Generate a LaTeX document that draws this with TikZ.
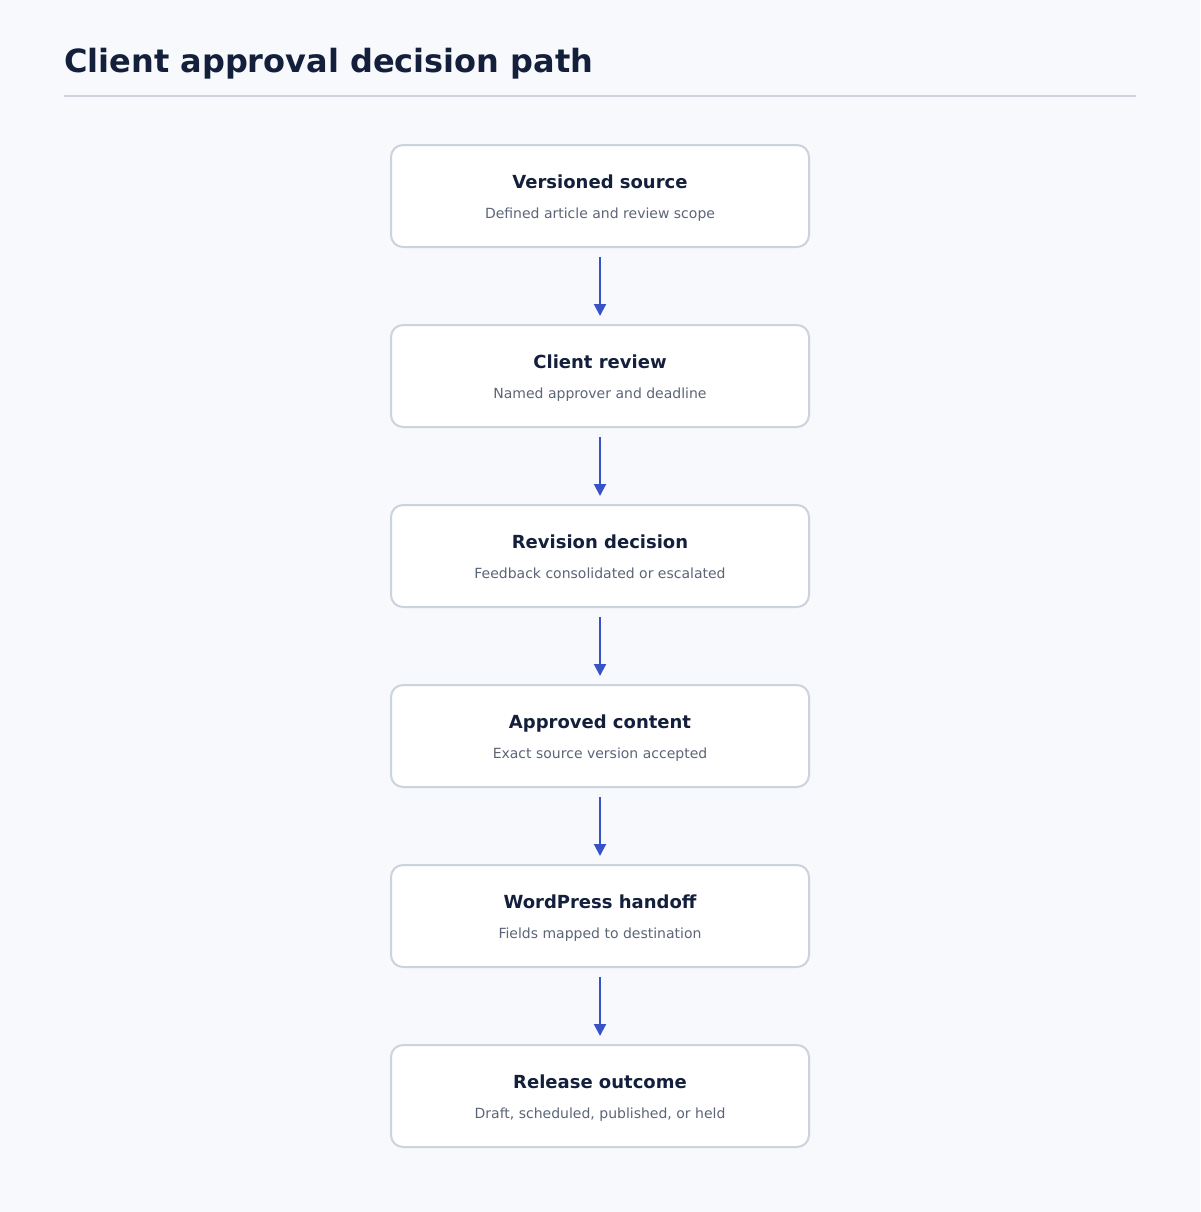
\documentclass[tikz,border=0pt]{standalone}
\usepackage{fontspec}
\setmainfont{DejaVu Sans}
\usetikzlibrary{arrows.meta}
\definecolor{bgc}{HTML}{F7F9FC}
\definecolor{titlec}{HTML}{131F3B}
\definecolor{subc}{HTML}{5C6577}
\definecolor{borderc}{HTML}{CDD3DC}
\definecolor{rulec}{HTML}{CFD4DC}
\definecolor{arrowc}{HTML}{3853C6}
\tikzset{
  box/.style={draw=borderc, fill=white, line width=2pt, rounded corners=12pt,
    minimum width=418pt, minimum height=102pt, inner sep=0pt},
  boxtitle/.style={anchor=base, font=\fontsize{18}{22}\selectfont\bfseries, text=titlec, inner sep=0pt},
  boxsub/.style={anchor=base, font=\fontsize{14}{17}\selectfont, text=subc, inner sep=0pt},
  flow/.style={draw=arrowc, line width=2pt, -{Triangle[length=12pt,width=12pt]},
    shorten <=9pt, shorten >=8pt},
}
\begin{document}
\begin{tikzpicture}[x=1pt,y=-1pt]
\useasboundingbox (0,0) rectangle (1200,1212);
\fill[bgc] (0,0) rectangle (1200,1212);
\node[anchor=base west, inner sep=0pt, font=\fontsize{32}{38}\selectfont\bfseries, text=titlec] (title) at (64,72.5) {Client approval decision path};
\coordinate (ruleL) at (64,96);
\coordinate (ruleR) at (1136,96);
\draw[rulec, line width=2pt] (ruleL) -- (ruleR);
\foreach \i/\t/\s in {1/Versioned source/Defined article and review scope,
  2/Client review/Named approver and deadline,
  3/Revision decision/Feedback consolidated or escalated,
  4/Approved content/Exact source version accepted,
  5/WordPress handoff/Fields mapped to destination,
  6/Release outcome/{Draft, scheduled, published, or held}} {
  \node[box] (b\i) at (600,{196+180*(\i-1)}) {};
  \node[boxtitle] (t\i) at ([yshift=8pt]b\i.center) {\t};
  \node[boxsub] (s\i) at ([yshift=-22pt]b\i.center) {\s};
}
\foreach \a/\b in {1/2,2/3,3/4,4/5,5/6} {
  \draw[flow] (b\a.south) -- (b\b.north);
}
\end{tikzpicture}
\end{document}
